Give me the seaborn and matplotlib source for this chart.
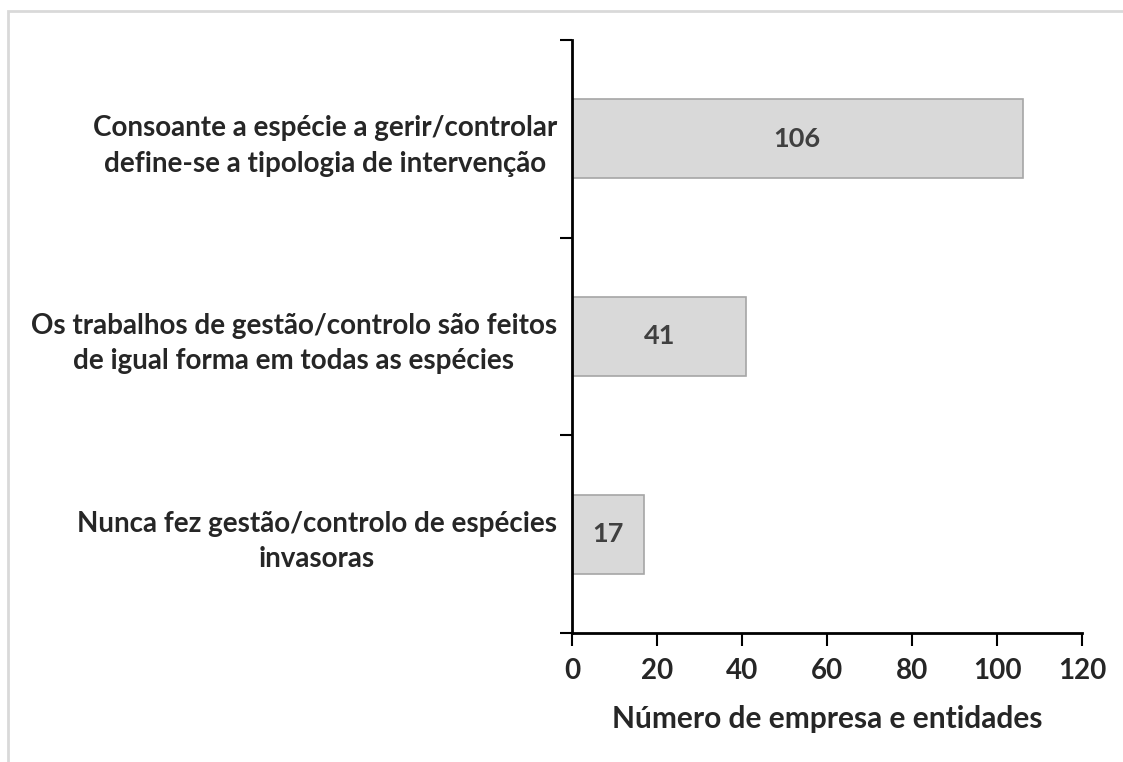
import matplotlib.pyplot as plt
import matplotlib.patches as mpatches
import pandas as pd
import seaborn as sns

# Chart data
categories = [
    "Consoante a espécie a gerir/controlar\ndefine-se a tipologia de intervenção",
    "Os trabalhos de gestão/controlo são feitos\nde igual forma em todas as espécies",
    "Nunca fez gestão/controlo de espécies\ninvasoras",
]
counts = [106, 41, 17]
x_ticks = [0, 20, 40, 60, 80, 100, 120]
x_label = "Número de empresa e entidades"

df = pd.DataFrame({"categoria": categories, "n": counts})

sns.set_style("white")
plt.rcParams["font.family"] = ["Lato", "DejaVu Sans"]

fig = plt.figure(figsize=(11.23, 7.62), dpi=100)
ax = fig.add_axes([0.5094, 0.1693, 0.4541, 0.7782])

sns.barplot(
    data=df,
    y="categoria",
    x="n",
    orient="h",
    color="#d9d9d9",
    edgecolor="#a6a6a6",
    linewidth=1.2,
    width=0.4,
    saturation=1,
    ax=ax,
)

# Value labels inside the bars
for i, v in enumerate(counts):
    ax.text(v / 2, i, str(v), ha="center", va="center",
            fontsize=19.5, fontweight="bold", color="#404040")

ax.set_xlim(0, 120)
ax.set_xticks(x_ticks)
ax.set_xticklabels([str(t) for t in x_ticks], fontsize=20, fontweight="bold")
ax.set_ylim(len(categories) - 0.5, -0.5)

# Ticks at category boundaries, labels at centres
ax.set_yticks([i - 0.5 for i in range(len(categories) + 1)])
ax.set_yticklabels([])
ax.set_yticks(range(len(categories)), minor=True)
ax.set_yticklabels(categories, minor=True, fontsize=20, fontweight="bold",
                   multialignment="center", linespacing=1.45)
ax.tick_params(axis="y", which="minor", length=0, pad=11)
ax.tick_params(axis="y", which="major", length=9, width=1.5, direction="out",
               color="black", left=True)
ax.tick_params(axis="x", length=9, width=1.5, direction="out", color="black",
               bottom=True, pad=9)

ax.set_xlabel(x_label, fontsize=21.5, fontweight="bold", labelpad=15)
ax.set_ylabel("")

for side in ["top", "right"]:
    ax.spines[side].set_visible(False)
for side in ["left", "bottom"]:
    ax.spines[side].set_color("black")
    ax.spines[side].set_linewidth(2)

# Outer chart frame (cropped at right and bottom)
frame = mpatches.Rectangle((8 / 1123, -0.1), 1.2, 1.1 - 11 / 762,
                           transform=fig.transFigure, fill=False,
                           edgecolor="#d9d9d9", linewidth=2)
fig.patches.append(frame)

fig.savefig("out.png", dpi=100)
plt.close(fig)
